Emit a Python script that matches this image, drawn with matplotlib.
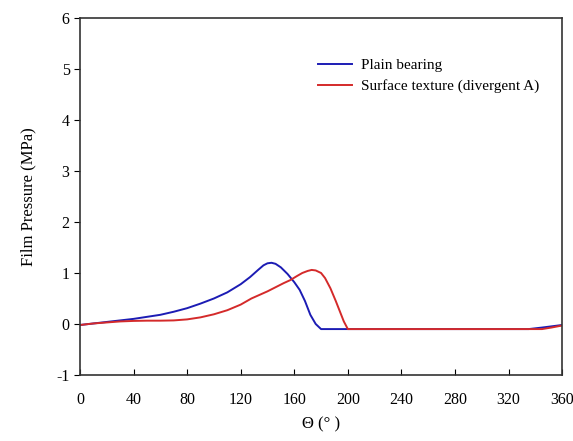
import matplotlib
matplotlib.use('Agg')
import matplotlib.pyplot as plt
import numpy as np

plt.rcParams['font.family'] = ['Liberation Serif', 'DejaVu Serif']
plt.rcParams['axes.unicode_minus'] = False

# film pressure around the bearing circumference
theta_plain = [0, 10, 20, 30, 40, 50, 60, 70, 80, 90, 100, 110, 120, 127, 133, 137, 140, 143,
               146, 150, 155, 160, 164, 168, 172, 176, 180, 220, 300, 335, 345, 360]
p_plain = [-0.02, 0.01, 0.04, 0.07, 0.1, 0.14, 0.18, 0.24, 0.31, 0.4, 0.5, 0.62, 0.78, 0.92,
           1.06, 1.15, 1.19, 1.2, 1.18, 1.11, 0.98, 0.82, 0.67, 0.45, 0.18, 0.0, -0.1,
           -0.1, -0.1, -0.1, -0.07, -0.02]

theta_tex = [0, 10, 20, 30, 40, 50, 60, 70, 80, 90, 100, 110, 120, 128, 134, 140, 146, 152,
             157, 162, 166, 170, 173, 176, 180, 183, 187, 191, 194, 197, 200, 220, 300, 345,
             352, 360]
p_tex = [-0.02, 0.01, 0.03, 0.05, 0.06, 0.065, 0.065, 0.07, 0.09, 0.13, 0.19, 0.27, 0.38,
         0.5, 0.57, 0.64, 0.72, 0.8, 0.86, 0.94, 1.0, 1.04, 1.06, 1.05, 1.0, 0.9, 0.7, 0.45,
         0.25, 0.05, -0.1, -0.1, -0.1, -0.1, -0.07, -0.03]

fig = plt.figure(figsize=(5.73, 4.41), dpi=100)
ax = fig.add_axes([0.1396, 0.1497, 0.8414, 0.8095])

ax.plot(theta_plain, p_plain, color='#1c1cb4', lw=1.4, label='Plain bearing')
ax.plot(theta_tex, p_tex, color='#d42a2a', lw=1.4, label='Surface texture (divergent A)')

ax.set_xlim(0, 360)
ax.set_ylim(-1, 6)
ax.set_xticks(np.arange(0, 361, 40))
ax.set_yticks(np.arange(-1, 7, 1))
ax.tick_params(axis='x', direction='in', length=4, labelsize=11.5, pad=12)
ax.tick_params(axis='y', direction='out', length=4, labelsize=11.5)
for s in ax.spines.values():
    s.set_color('#333333')
    s.set_linewidth(1.2)

ax.set_xlabel('\u0398 (\u00b0 )', fontsize=12, labelpad=6)
ax.set_ylabel('Film Pressure (MPa)', fontsize=12, labelpad=14)

ax.legend(loc='upper left', bbox_to_anchor=(0.465, 0.925), frameon=False, fontsize=11,
          handlelength=2.2, handletextpad=0.6, labelspacing=0.45)

fig.savefig('out.png', dpi=100)
